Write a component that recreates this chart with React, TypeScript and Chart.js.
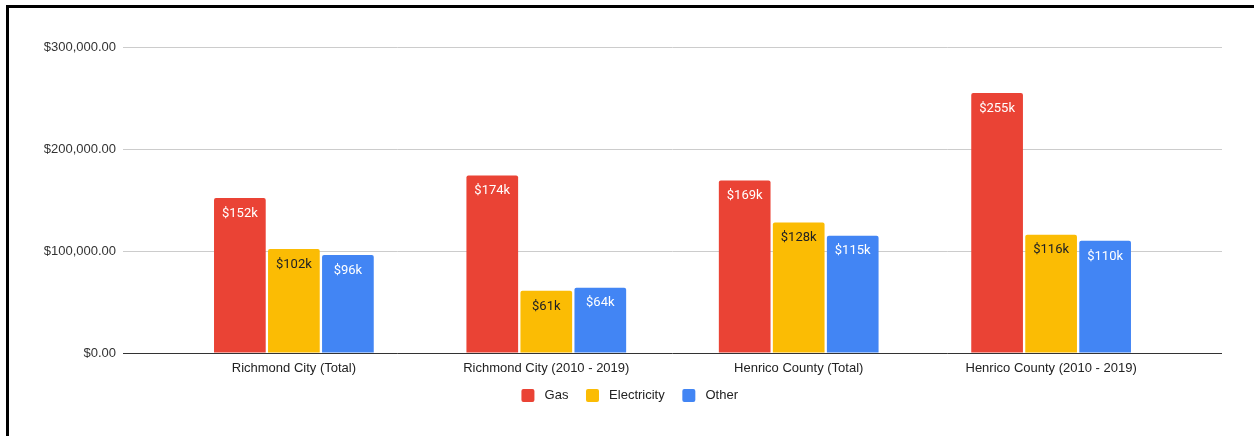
import React, { useEffect, useRef } from "react";
import { Chart, registerables } from "chart.js";

Chart.register(...registerables);

const categories = [
  "Richmond City (Total)",
  "Richmond City (2010 - 2019)",
  "Henrico County (Total)",
  "Henrico County (2010 - 2019)",
];
const gasValues = [152000, 174000, 169000, 255000];
const electricityValues = [102000, 61000, 128000, 116000];
const otherValues = [96000, 64000, 115000, 110000];
const yTickValues = [0, 100000, 200000, 300000];

const seriesNames = ["Gas", "Electricity", "Other"];
const seriesColors = ["#EA4335", "#FBBC04", "#4285F4"];
const labelColors = ["#ffffff", "#202124", "#ffffff"];

const axisFont = "'Liberation Sans', Arial, sans-serif";

const dataLabelPlugin = {
  id: "barValueLabels",
  afterDatasetsDraw(chart: any) {
    const ctx = chart.ctx;
    ctx.save();
    ctx.font = "13px Roboto, 'Liberation Sans', sans-serif";
    ctx.textAlign = "center";
    ctx.textBaseline = "middle";
    chart.data.datasets.forEach((ds: any, di: number) => {
      const meta = chart.getDatasetMeta(di);
      meta.data.forEach((el: any, i: number) => {
        const v = ds.data[i].y;
        ctx.fillStyle = labelColors[di];
        ctx.fillText("$" + Math.round(v / 1000) + "k", el.x, el.y + 15.5);
      });
    });
    ctx.restore();
  },
};

export default function App() {
  const canvasRef = useRef<HTMLCanvasElement | null>(null);

  useEffect(() => {
    document.body.style.margin = "0";
    const canvas = canvasRef.current;
    if (!canvas) return;
    const seriesValues = [gasValues, electricityValues, otherValues];
    const chart = new Chart(canvas, {
      type: "bar",
      data: {
        datasets: seriesNames.map((name, si) => ({
          label: name,
          data: categories.map((_, i) => ({ x: i, y: seriesValues[si][i] })),
          backgroundColor: seriesColors[si],
          borderWidth: 0,
          borderRadius: { topLeft: 2, topRight: 2, bottomLeft: 0, bottomRight: 0 },
          borderSkipped: "bottom",
          categoryPercentage: 0.642,
          barPercentage: 0.957,
        })),
      },
      options: {
        responsive: false,
        animation: false,
        layout: { padding: { top: 39, right: 0, bottom: 24, left: 0 } },
        plugins: {
          tooltip: { enabled: false },
          legend: {
            position: "bottom",
            labels: {
              boxWidth: 13,
              boxHeight: 13,
              padding: 14,
              color: "#222222",
              useBorderRadius: true,
              borderRadius: 2,
              font: { family: axisFont, size: 13 },
              generateLabels: (chart: any) =>
                chart.data.datasets.map((ds: any, i: number) => ({
                  text: " " + ds.label + " ",
                  fillStyle: ds.backgroundColor,
                  strokeStyle: ds.backgroundColor,
                  lineWidth: 0,
                  fontColor: "#222222",
                  hidden: false,
                  borderRadius: 2,
                  datasetIndex: i,
                })),
            },
          },
        },
        scales: {
          x: {
            type: "linear",
            min: -0.677,
            max: 3.677,
            offset: false,
            grid: { display: false, drawTicks: false },
            border: { display: false },
            afterBuildTicks: (scale: any) => {
              scale.ticks = categories.map((_, i) => ({ value: i }));
            },
            afterFit: (scale: any) => {
              scale.height = 22;
            },
            ticks: {
              autoSkip: false,
              maxRotation: 0,
              padding: 8,
              color: "#222222",
              font: { family: axisFont, size: 13 },
              callback: (v: any) => categories[Math.round(Number(v))] ?? "",
            },
          },
          y: {
            min: 0,
            max: 300000,
            afterBuildTicks: (scale: any) => {
              scale.ticks = yTickValues.map((v) => ({ value: v }));
            },
            afterFit: (scale: any) => {
              scale.width = 114;
            },
            grid: {
              drawTicks: false,
              color: (c: any) => (c.tick && c.tick.value === 0 ? "#333333" : "#cccccc"),
              lineWidth: 1,
            },
            border: { display: false },
            ticks: {
              padding: 7,
              color: "#333333",
              font: { family: axisFont, size: 13 },
              callback: (v: any) =>
                "$" +
                Number(v).toLocaleString("en-US", {
                  minimumFractionDigits: 2,
                  maximumFractionDigits: 2,
                }),
            },
          },
          yRightSpace: {
            type: "linear",
            position: "right",
            display: true,
            grid: { display: false, drawTicks: false },
            border: { display: false },
            ticks: { display: false },
            afterFit: (scale: any) => {
              scale.width = 32;
            },
          },
        },
      },
      plugins: [dataLabelPlugin],
    } as any);
    return () => chart.destroy();
  }, []);

  return (
    <div style={{ position: "relative", width: 1254, height: 436, overflow: "hidden", background: "#fff" }}>
      <div
        style={{
          position: "absolute",
          left: 6,
          top: 5,
          right: 0,
          bottom: 0,
          borderLeft: "3px solid #000",
          borderTop: "3px solid #000",
        }}
      />
      <canvas
        ref={canvasRef}
        width={1245}
        height={428}
        style={{ position: "absolute", left: 9, top: 8, width: 1245, height: 428 }}
      />
    </div>
  );
}
